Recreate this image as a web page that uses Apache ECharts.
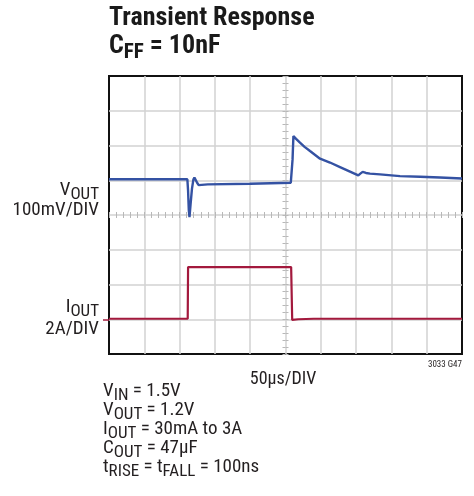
<!DOCTYPE html>
<html>
<head>
<meta charset="utf-8">
<script src="https://cdn.jsdelivr.net/npm/echarts@6/dist/echarts.min.js"></script>
<style>
  html, body { margin: 0; padding: 0; background: #fff; }
  #chart { width: 474px; height: 496px; }
</style>
</head>
<body>
<div id="chart"></div>
<script>
// Scope capture: 50 µs/div horizontally, 10 divisions.
const timeAxis = { min: 0, max: 500, step: 50, minorStep: 10 };
// VOUT channel, mV deviation from 1.2V at 100 mV/div.
const voutAxis = { min: -500, max: 300, step: 100, minorStep: 20 };
// IOUT channel, A at 2 A/div.
const ioutAxis = { min: -2, max: 14, step: 2 };

// VOUT trace (time in µs, deviation in mV)
const voutTimeUs = [0, 60, 111, 112, 113, 114, 115.5, 117.5, 119.5, 121, 123, 125, 127, 140, 200, 257.5, 258.5, 260, 261.2, 265, 270.5, 277, 284.7, 298.9, 313, 327.2, 341.4, 353.1, 356, 359.3, 364, 369.7, 383.9, 412.2, 440.5, 468.8, 500];
const voutMv     = [3, 3, 3, -30, -85, -106, -70, -25, 2, 8, 4, -8, -14, -12, -10, -7, -7, 60, 127, 119, 108, 96, 84, 62, 51, 38, 25, 14, 19, 24, 21, 19, 17, 12, 10, 8, 5];

// IOUT trace (time in µs, current in A)
const ioutTimeUs = [0, 111.5, 112, 180, 258, 259.5, 268, 290, 500];
const ioutAmps   = [0.03, 0.03, 3.0, 3.0, 3.0, -0.04, 0.0, 0.03, 0.03];

const vout = voutTimeUs.map((t, i) => [t, voutMv[i]]);
const iout = ioutTimeUs.map((t, i) => [t, ioutAmps[i]]);

const FONT = "'Roboto Condensed', 'Liberation Sans', sans-serif";
const INK = '#231f20';
const GRID_LINE = '#d2d2d2';

const grid = { left: 109, top: 76, width: 353, height: 278 };

// hidden axes used only to draw the small graduation marks along the centre lines
function centreTicksX(inside) {
  return {
    type: 'value', min: timeAxis.min, max: timeAxis.max, interval: timeAxis.minorStep,
    position: 'top', offset: -grid.height / 2,
    axisLine: { show: false }, splitLine: { show: false }, axisLabel: { show: false },
    axisTick: { show: true, inside: inside, length: 3, lineStyle: { color: '#b8b8b8', width: 1 } }
  };
}
function centreTicksY(inside) {
  return {
    type: 'value', min: voutAxis.min, max: voutAxis.max, interval: voutAxis.minorStep,
    position: 'right', offset: -grid.width / 2,
    axisLine: { show: false }, splitLine: { show: false }, axisLabel: { show: false },
    axisTick: { show: true, inside: inside, length: 3, lineStyle: { color: '#b8b8b8', width: 1 } }
  };
}

const labelRich = (size, sub, lh, pad) => ({
  m: { fontSize: size, fontFamily: FONT, fill: INK, lineHeight: lh },
  s: { fontSize: sub, fontFamily: FONT, fill: INK, lineHeight: lh, padding: [pad, 0, 0, 0] }
});

const chart = echarts.init(document.getElementById('chart'), null, { renderer: 'canvas' });
chart.setOption({
  backgroundColor: '#ffffff',
  animation: false,
  textStyle: { fontFamily: FONT },
  grid: Object.assign({ show: true, borderColor: '#111', borderWidth: 2, backgroundColor: 'transparent' }, grid),
  xAxis: [
    {
      type: 'value', min: timeAxis.min, max: timeAxis.max, interval: timeAxis.step,
      position: 'bottom',
      axisLine: { show: false }, axisTick: { show: false }, axisLabel: { show: false },
      splitLine: { show: true, showMinLine: false, showMaxLine: false, lineStyle: { color: GRID_LINE, width: 1.5 } }
    },
    centreTicksX(false),
    centreTicksX(true)
  ],
  yAxis: [
    {
      // IOUT channel, with its ground marker on the left edge
      type: 'value', min: ioutAxis.min, max: ioutAxis.max, interval: ioutAxis.step,
      position: 'left',
      axisLine: { show: false }, axisLabel: { show: false }, splitLine: { show: false },
      axisTick: { show: true, customValues: [0], length: 6, lineStyle: { color: '#a3193d', width: 1.5 } }
    },
    {
      type: 'value', min: voutAxis.min, max: voutAxis.max, interval: voutAxis.step,
      position: 'right',
      axisLine: { show: false }, axisTick: { show: false }, axisLabel: { show: false },
      splitLine: { show: true, showMinLine: false, showMaxLine: false, lineStyle: { color: GRID_LINE, width: 1.5 } }
    },
    centreTicksY(false),
    centreTicksY(true)
  ],
  series: [
    {
      name: 'IOUT', type: 'line', xAxisIndex: 0, yAxisIndex: 0, data: iout,
      showSymbol: false, smooth: false,
      lineStyle: { color: '#a3193d', width: 2.2 }, z: 3
    },
    {
      name: 'VOUT', type: 'line', xAxisIndex: 0, yAxisIndex: 1, data: vout,
      showSymbol: false, smooth: false,
      lineStyle: { color: '#3452a3', width: 2.4 }, z: 4
    }
  ],
  graphic: [
    {
      type: 'text', x: 109, y: 4,
      style: {
        text: '{t|Transient Response}\n{t|C}{ts|FF}{t| = 10nF}',
        align: 'left', verticalAlign: 'top',
        rich: {
          t: { fontSize: 26, fontWeight: 'bold', fontFamily: FONT, fill: '#1a1a1a', lineHeight: 28 },
          ts: { fontSize: 21, fontWeight: 'bold', fontFamily: FONT, fill: '#1a1a1a', lineHeight: 28, padding: [14, 0, 0, 0] }
        }
      }
    },
    {
      type: 'text', x: 99, y: 180,
      style: {
        text: '{m|V}{s|OUT}\n{m|100mV/DIV}',
        align: 'right', verticalAlign: 'top',
        rich: labelRich(19, 17, 20, 9)
      }
    },
    {
      type: 'text', x: 99, y: 296,
      style: {
        text: '{m|I}{s|OUT}\n{m|2A/DIV}',
        align: 'right', verticalAlign: 'top',
        rich: labelRich(19, 17, 22, 9)
      }
    },
    {
      type: 'text', x: 283, y: 379,
      style: {
        text: '50µs/DIV', align: 'center', verticalAlign: 'middle',
        fontSize: 18, fontFamily: FONT, fill: INK
      }
    },
    {
      type: 'text', x: 462, y: 365,
      style: {
        text: '3033 G47', align: 'right', verticalAlign: 'middle',
        fontSize: 9, fontFamily: FONT, fill: INK
      }
    },
    {
      type: 'text', x: 103, y: 382,
      style: {
        text: [
          '{m|V}{s|IN}{m| = 1.5V}',
          '{m|V}{s|OUT}{m| = 1.2V}',
          '{m|I}{s|OUT}{m| = 30mA to 3A}',
          '{m|C}{s|OUT}{m| = 47µF}',
          '{m|t}{s|RISE}{m| = t}{s|FALL}{m| = 100ns}'
        ].join('\n'),
        align: 'left', verticalAlign: 'top',
        rich: labelRich(19, 17, 19, 8)
      }
    }
  ]
});
</script>
</body>
</html>
